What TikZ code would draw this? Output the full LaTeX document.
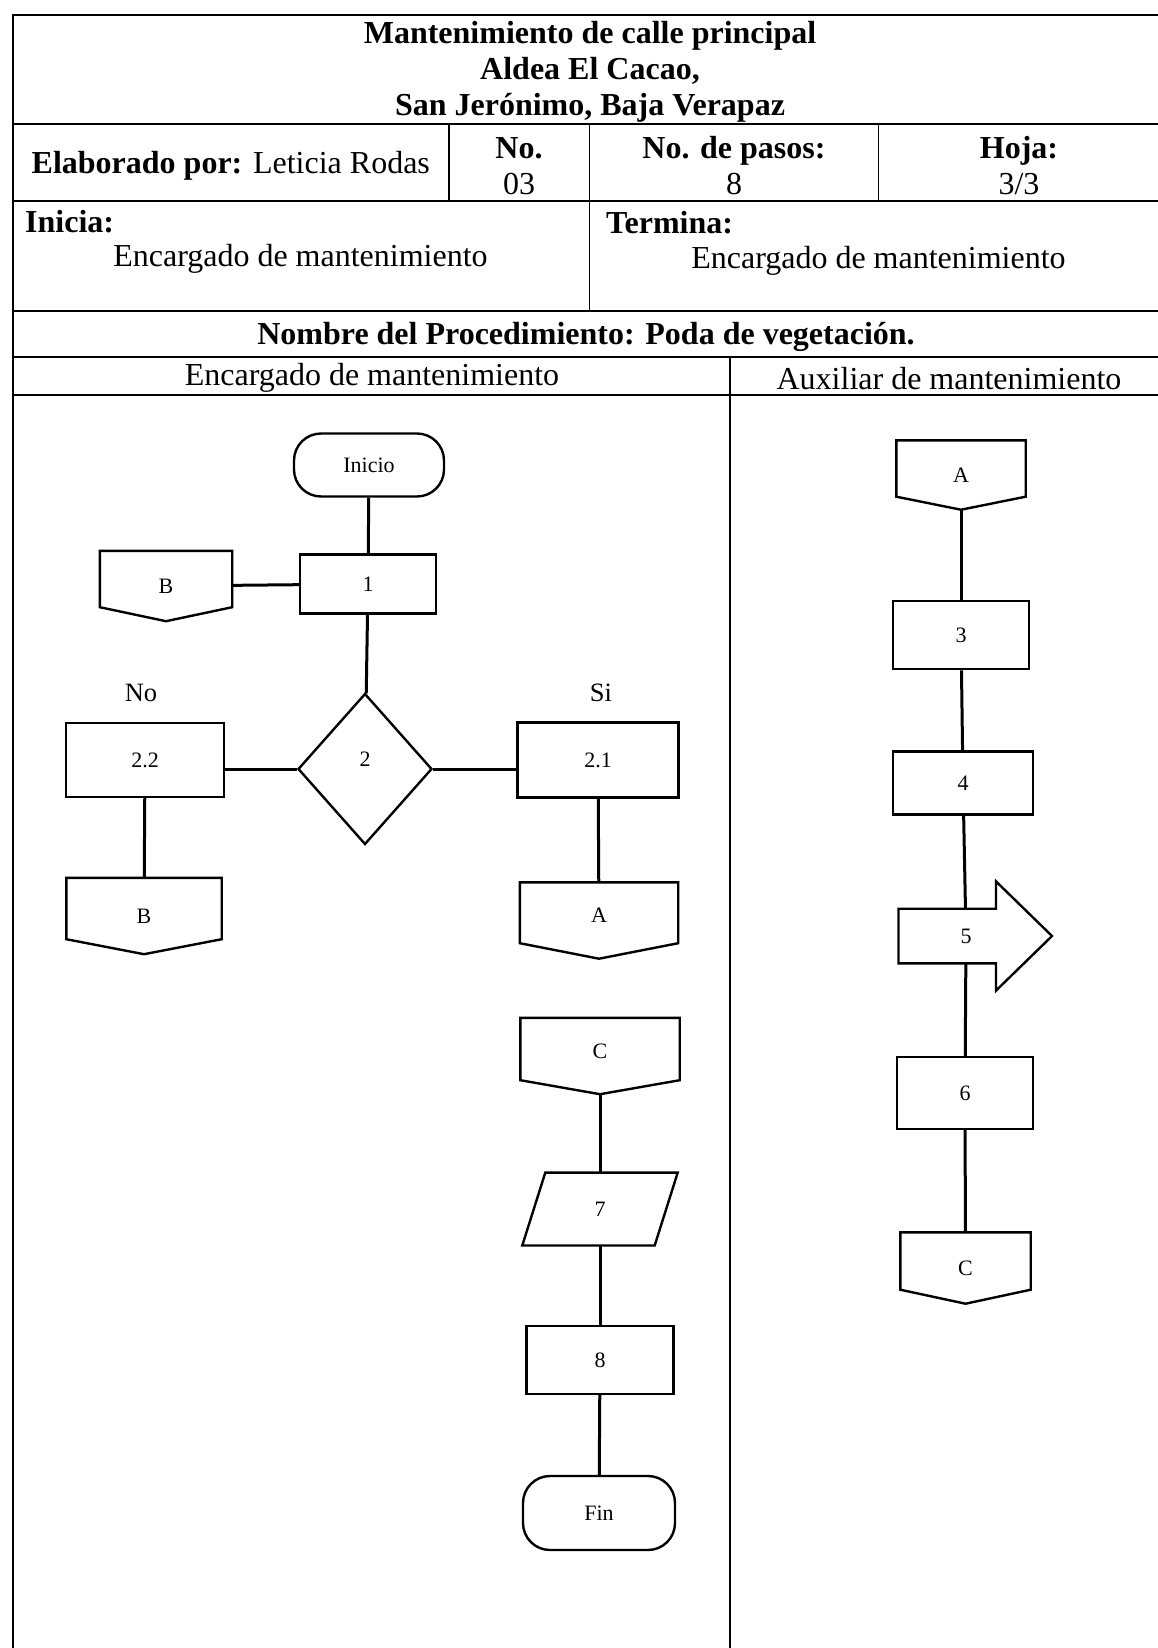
\documentclass[tikz,border=0pt]{standalone}
\usepackage{fontspec}
\setmainfont{Liberation Serif}
\usetikzlibrary{calc,shapes.geometric}

\tikzset{
  marco/.style={line width=1.8pt},
  forma/.style={line width=2.4pt, line join=miter},
  linea/.style={line width=3pt},
  texto/.style={inner sep=0pt, font=\fontsize{32}{36}\selectfont},
  negrita/.style={texto, font=\bfseries\fontsize{32}{36}\selectfont},
  rotulo/.style={inner sep=0pt, font=\fontsize{26.5}{28}\selectfont},
  paso/.style={draw, rectangle, forma, inner sep=0pt, font=\fontsize{22}{24}\selectfont},
  terminal/.style={paso, rounded corners=27pt},
  decision/.style={paso, diamond, text height=15pt, text depth=20pt},
  hueco/.style={rectangle, inner sep=0pt, font=\fontsize{22}{24}\selectfont},
  conector/.style={hueco}
}
% conector fuera de pagina: el nodo es el hueco, aqui va el contorno
\newcommand{\contornoconector}[2][14pt]{\draw[forma] (#2.north west) -- (#2.north east) -- ([yshift=#1]#2.south east) -- (#2.south) -- ([yshift=#1]#2.south west) -- cycle;}

\begin{document}
\begin{tikzpicture}[x=1pt,y=-1pt]
  %%%%% START %%%%%
  \def\izq{12.6}
  \def\der{1166}
  \def\arr{14.7}
  \def\aba{1660}
  \def\fa{124}
  \def\fb{200.7}
  \def\fc{311}
  \def\fd{357.3}
  \def\fe{395.1}
  \def\ca{448.7}
  \def\cb{589.5}
  \def\cc{878.5}
  \def\carril{730}
  \def\xizq{600}
  \def\xder{963}

  \useasboundingbox (0,0) rectangle (1158,1648);
  \clip (0,0) rectangle (1158,1648);

  % marco y encabezado
  \draw[marco] (\izq,\arr) rectangle (\der,\aba);
  \draw[marco] (\izq,\fa) -- (\der,\fa);
  \draw[marco] (\izq,\fb) -- (\der,\fb);
  \draw[marco] (\izq,\fc) -- (\der,\fc);
  \draw[marco] (\izq,\fd) -- (\der,\fd);
  \draw[marco] (\izq,\fe) -- (\der,\fe);
  \draw[marco] (\ca,\fa) -- (\ca,\fb);
  \draw[marco] (\cb,\fa) -- (\cb,\fc);
  \draw[marco] (\cc,\fa) -- (\cc,\fb);
  \draw[marco] (\carril,\fd) -- (\carril,\aba);

  \node[negrita, align=center] (tTitulo) at (590,72) {Mantenimiento de calle principal\\Aldea El Cacao,\\San Jerónimo, Baja Verapaz};
  \node[texto, anchor=west] (tElab) at (31.5,166) {\textbf{Elaborado por:} Leticia Rodas};
  \node[texto, align=center] (tNo) at (519,166) {\textbf{No.}\\03};
  \node[texto, align=center] (tPasos) at (734,166) {\textbf{No. de pasos:}\\8};
  \node[texto, align=center] (tHoja) at (1019,166) {\textbf{Hoja:}\\3/3};
  \node[negrita, anchor=west] (tInicia) at (25,222) {Inicia:};
  \node[texto] (tIniciaQ) at (300.5,259) {Encargado de mantenimiento};
  \node[negrita, anchor=west] (tTermina) at (606,223) {Termina:};
  \node[texto] (tTerminaQ) at (878.5,261) {Encargado de mantenimiento};
  \node[negrita] (tNombre) at (586,337) {Nombre del Procedimiento: Poda de vegetación.};
  \node[texto] (tCarrilA) at (372,378) {Encargado de mantenimiento};
  \node[texto] (tCarrilB) at (949,378.5) {Auxiliar de mantenimiento};

  % carril del encargado
  \node[terminal, minimum width=150, minimum height=63] (ini) at (369,465) {Inicio};
  \node[paso, minimum width=136, minimum height=59] (s1) at (368,584) {1};
  \node[conector, minimum width=132, minimum height=70] (b1) at (166,586) {B};
  \contornoconector{b1}
  \node[decision, minimum width=134, minimum height=151] (d2) at (365,769) {2};
  \node[rotulo] (lNo) at (141,693) {No};
  \node[rotulo] (lSi) at (601,693) {Si};
  \node[paso, minimum width=158, minimum height=74] (s22) at (145,760) {2.2};
  \node[paso, minimum width=161, minimum height=75] (s21) at (598,760) {2.1};
  \node[conector, minimum width=155, minimum height=76] (b2) at (144,916) {B};
  \contornoconector[15pt]{b2}
  \node[conector, minimum width=158, minimum height=76, text depth=10pt] (a1) at (599,920.5) {A};
  \contornoconector[15.5pt]{a1}
  \node[conector, minimum width=159, minimum height=76, text depth=10pt] (c1) at (\xizq,1056) {C};
  \contornoconector{c1}
  \node[hueco, minimum width=132, minimum height=72.5] (s7) at (\xizq,1209) {7};
  \draw[forma] ([xshift=11.5pt]s7.north west) -- ([xshift=11.5pt]s7.north east) -- ([xshift=-11.5pt]s7.south east) -- ([xshift=-11.5pt]s7.south west) -- cycle;
  \node[paso, minimum width=147, minimum height=67.5] (s8) at (\xizq,1360) {8};
  \node[terminal, minimum width=152, minimum height=74] (fin) at (599,1513) {Fin};

  \draw[linea] (ini) -- (s1);
  \draw[linea] (b1) -- (s1);
  \draw[linea] (s1) -- (d2);
  \draw[linea] (d2.west) -- (d2.west -| s22.east);
  \draw[linea] (d2.east) -- (d2.east -| s21.west);
  \draw[linea] (s22) -- (b2);
  \draw[linea] (s21) -- (a1);
  \draw[linea] (c1) -- (s7);
  \draw[linea] (s7) -- (s8);
  \draw[linea] (s8) -- (fin);

  % carril del auxiliar
  \node[conector, minimum width=129, minimum height=69] (a2) at (961,475) {A};
  \contornoconector[13pt]{a2}
  \node[paso, minimum width=136, minimum height=68.5] (s3) at (961,635) {3};
  \node[paso, minimum width=140, minimum height=63] (s4) at (\xder,783) {4};
  \node[hueco, minimum width=60, minimum height=54.6] (p5) at (966,936) {5};
  \draw[forma] ($(p5)+(-67.5,-27.3)$) -- ++(97.5,0) -- ++(0,-27.3) -- ++(56,54.6) -- ++(-56,54.6) -- ++(0,-27.3) -- ++(-97.5,0) -- cycle;
  \node[paso, minimum width=136, minimum height=71.5] (s6) at (965,1093) {6};
  \node[conector, minimum width=130, minimum height=71] (c2) at (965.5,1268) {C};
  \contornoconector{c2}

  \draw[linea] (a2) -- (s3);
  \draw[linea] (s3) -- (s4);
  \draw[linea] (s4) -- (p5);
  \draw[linea] (p5) -- (s6);
  \draw[linea] (s6) -- (c2);
  %%%%% END %%%%%
\end{tikzpicture}
\end{document}
